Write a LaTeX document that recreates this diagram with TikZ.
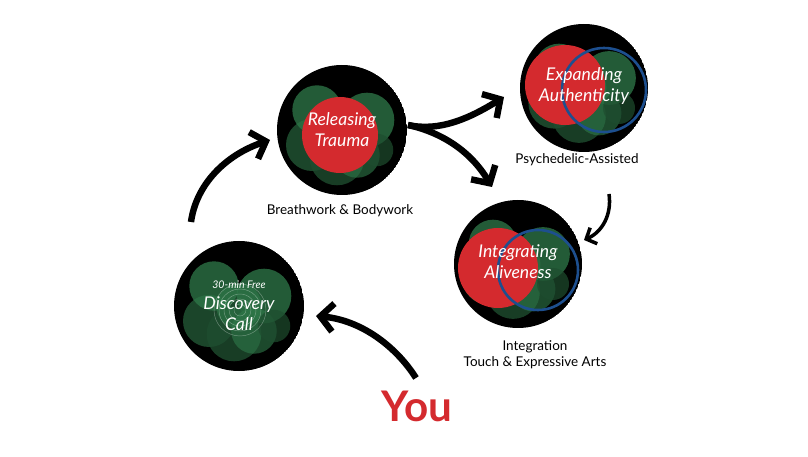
\documentclass[tikz,border=0pt]{standalone}
\usepackage{fontspec}
\setmainfont{Lato}
\usetikzlibrary{arrows.meta}
\definecolor{grn}{HTML}{2F7A4A}
\definecolor{grd}{HTML}{1E4D2F}
\definecolor{rd}{HTML}{D42A2E}
\definecolor{bl}{HTML}{1D4F8F}
\begin{document}
\begin{tikzpicture}[x=0.03cm,y=-0.03cm,
  flow/.style={line width=5.5pt,-{Straight Barb[length=11pt,width=24pt,line width=5.5pt]}},
  thin flow/.style={line width=3pt,-{Straight Barb[length=7pt,width=15pt,line width=3pt]}},
  lab/.style={font=\fontsize{11.5}{14}\selectfont},
  scr/.style={text=white,font=\itshape\fontsize{15}{15}\selectfont,align=center}]
\useasboundingbox (0,0) rectangle (808,457);
\fill[white] (0,0) rectangle (808,457);
\newcommand{\badge}[3]{%
  \begin{scope}
  \clip (#1,#2) circle (#3);
  \fill[black] (#1,#2) circle (#3);
  \fill[grd,opacity=0.9] (#1-30,#2+15) circle (0.4*#3);
  \fill[grn,opacity=0.75] (#1-25,#2-20) circle (0.38*#3);
  \fill[grn,opacity=0.75] (#1+25,#2-10) circle (0.42*#3);
  \fill[grd,opacity=0.8] (#1-5,#2+28) circle (0.42*#3);
  \fill[grn,opacity=0.6] (#1+15,#2+25) circle (0.35*#3);
  \fill[grn,opacity=0.6] (#1,#2) circle (0.35*#3);
  \fill[grd,opacity=0.7] (#1+35,#2+20) circle (0.25*#3);
  \end{scope}}
\badge{342}{130}{65}
\fill[rd] (340,135) circle (38);
\badge{584}{88}{64}
\fill[rd] (565,85) circle (40);
\draw[bl,line width=2.2pt] (604,90) circle (42);
\badge{518}{264}{64}
\fill[rd] (498,268) circle (40);
\draw[bl,line width=2.2pt] (538,270) circle (40);
\badge{239}{306}{65}
\foreach \r in {6,11,16,21,26} \draw[white,opacity=0.35,line width=0.4pt] (240,310) circle (\r);
\node[scr] (rt) at (342,130) {Releasing\\[3pt] Trauma};
\node[scr] (ea) at (584,86) {Expanding\\[3pt] Authenticity};
\node[scr] (ia) at (518,262) {Integrating\\[3pt] Aliveness};
\node[scr] (dc) at (239,306) {{\fontsize{9}{10}\selectfont 30-min Free}\\[3pt] Discovery\\[3pt] Call};
\node[lab] (bb) at (340,211) {Breathwork \& Bodywork};
\node[lab] (pa) at (577,160) {Psychedelic-Assisted};
\node[lab,align=center] (it) at (535,355) {Integration\\Touch \& Expressive Arts};
\node[text=rd,font=\bfseries\fontsize{36}{40}\selectfont] (you) at (417,406) {You};
\coordinate (s1) at (191,222);
\coordinate (e1) at (270,140);
\coordinate (sp) at (408,125);
\coordinate (e2) at (504,97);
\coordinate (e3) at (492,187);
\coordinate (s4) at (609,194);
\coordinate (e4) at (584,240);
\coordinate (s5) at (416,378);
\coordinate (e5) at (316,316);
\draw[flow] (s1) .. controls (196,185) and (225,155) .. (e1);
\draw[flow] (sp) .. controls (440,132) and (470,118) .. (e2);
\draw[flow] (sp) .. controls (440,132) and (470,150) .. (e3);
\draw[thin flow] (s4) .. controls (612,215) and (602,232) .. (e4);
\draw[flow] (s5) .. controls (395,345) and (360,320) .. (e5);
\end{tikzpicture}
\end{document}
